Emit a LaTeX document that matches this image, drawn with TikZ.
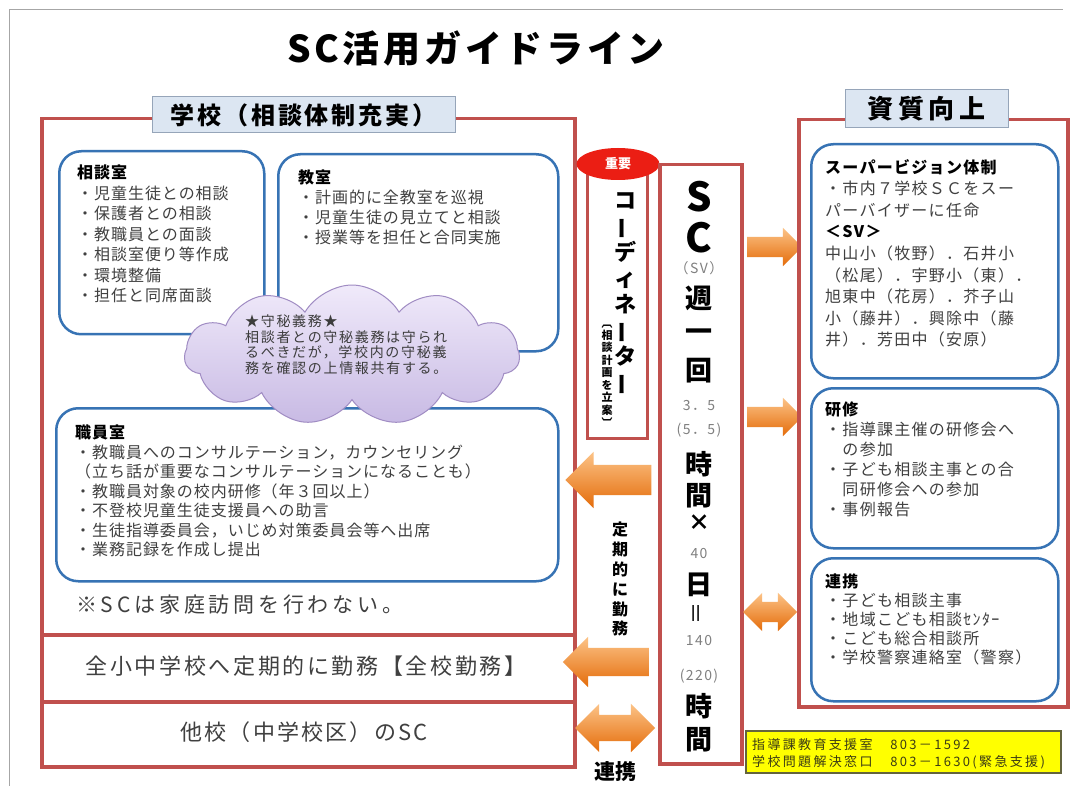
\documentclass[tikz,border=0pt]{standalone}
\usepackage{fontspec}
\usepackage{graphicx}
\setmainfont{Noto Sans CJK JP}
\usetikzlibrary{shapes.arrows,shapes.symbols,shapes.geometric}
\definecolor{scred}{RGB}{192,80,77}
\definecolor{bbord}{RGB}{55,115,180}
\definecolor{lblfill}{RGB}{220,230,242}
\definecolor{lblbord}{RGB}{150,165,185}
\definecolor{txtg}{RGB}{64,64,64}
\definecolor{numg}{RGB}{128,128,128}
\definecolor{orL}{RGB}{252,195,135}
\definecolor{orM}{RGB}{247,150,70}
\definecolor{orD}{RGB}{228,108,10}
\definecolor{cloudT}{RGB}{240,234,250}
\definecolor{cloudB}{RGB}{200,186,228}
\definecolor{cloudE}{RGB}{160,140,195}
\definecolor{impred}{RGB}{235,30,20}
\definecolor{ylw}{RGB}{255,255,0}
\definecolor{ytxt}{RGB}{60,60,20}
\newcommand{\fs}[2]{\fontsize{#1}{#2}\selectfont}
\newcommand{\ls}[1]{\addfontfeatures{LetterSpace=#1}}
\newcommand{\vbar}{\rotatebox[origin=c]{90}{ー}}
\begin{document}
\begin{tikzpicture}[x=1pt,y=-1pt,
  redbox/.style={draw=scred, line width=3.5pt, fill=white, inner sep=0pt, rectangle, anchor=north west},
  bluebox/.style={draw=bbord, line width=2.5pt, fill=white, rounded corners=22pt, inner sep=0pt, rectangle, anchor=north west},
  lbl/.style={draw=lblbord, line width=1pt, fill=lblfill, inner sep=0pt, rectangle},
  txt/.style={inner sep=0pt, align=left, anchor=north west, text=txtg},
  vtxt/.style={inner sep=0pt, align=center, anchor=north},
  orshade/.style={top color=orL, middle color=orM, bottom color=orD, draw=none, inner sep=0pt, text depth=0pt},
  larr/.style={orshade, single arrow, shape border rotate=180},
  rarr/.style={orshade, single arrow},
  darr/.style={orshade, double arrow},
  scbig/.style={inner sep=0pt, font=\fs{40}{40}\bfseries},
  sckan/.style={inner sep=0pt, font=\fs{27}{28}\bfseries},
  scnum/.style={inner sep=0pt, text=numg, font=\fs{14}{15}\ls{10}},
]
\useasboundingbox (0,0) rectangle (1071,786);
\fill[white] (0,0) rectangle (1071,786);
\draw[gray!70, line width=0.8pt] (9,786) -- (9,9) -- (1063,9);

% title
\node[inner sep=0pt, font=\fs{37}{40}\ls{10}\bfseries] (title) at (476,48) {SC活用ガイドライン};

% school side
\node[redbox, minimum width=533, minimum height=516] (school) at (40,117) {};
\node[redbox, minimum width=533, minimum height=67] (rowall) at (40,633) {};
\node[redbox, minimum width=533, minimum height=65] (rowother) at (40,700) {};
\node[lbl, minimum width=303, minimum height=36, font=\fs{24}{26}\ls{12}\bfseries] (schoollbl) at (303.5,115) {学校（相談体制充実）};

\node[bluebox, minimum width=205, minimum height=183] (soudan) at (58,150) {};
\node[txt, font=\fs{16}{20.5}\ls{6}] (soudantxt) at (77,165)
  {{\color{black}\bfseries 相談室}\\・児童生徒との相談\\・保護者との相談\\・教職員との面談\\・相談室便り等作成\\・環境整備\\・担任と同席面談};

\node[bluebox, minimum width=280, minimum height=197] (kyoushitsu) at (277,153) {};
\node[txt, font=\fs{16}{20}\ls{6}] (kyoutxt) at (298,170)
  {{\color{black}\bfseries 教室}\\・計画的に全教室を巡視\\・児童生徒の見立てと相談\\・授業等を担任と合同実施};

\node[bluebox, minimum width=502, minimum height=173] (shokuin) at (55,407) {};

\node[cloud, cloud puffs=11, cloud puff arc=120, cloud ignores aspect, minimum width=335, minimum height=140,
  top color=cloudT, bottom color=cloudB, draw=cloudE, line width=1pt, inner sep=0pt] (secret) at (352,355) {};
\node[txt, text={rgb,255:red,60;green,60;blue,60}, font=\fs{14}{15.5}\ls{12}] (secrettxt) at (245,315)
  {★守秘義務★\\相談者との守秘義務は守られ\\るべきだが，学校内の守秘義\\務を確認の上情報共有する。};

\node[txt, font=\fs{16}{19.5}\ls{6}] (shokutxt) at (75,425)
  {{\color{black}\bfseries 職員室}\\・教職員へのコンサルテーション，カウンセリング\\（立ち話が重要なコンサルテーションになることも）\\・教職員対象の校内研修（年３回以上）\\・不登校児童生徒支援員への助言\\・生徒指導委員会，いじめ対策委員会等へ出席\\・業務記録を作成し提出};

\node[txt, font=\fs{21}{23}\ls{18}] (note) at (76,594.5) {※SCは家庭訪問を行わない。};

\node[inner sep=0pt, text=txtg, font=\fs{22}{24}\ls{12}] (alltxt) at (306,666) {全小中学校へ定期的に勤務【全校勤務】};
\node[inner sep=0pt, text=txtg, font=\fs{22}{24}\ls{10}] (othertxt) at (304,732) {他校（中学校区）のSC};

% arrows (left)
\node[larr, minimum height=86, text height=30, single arrow head extend=13] (arrL1) at (616,480) {};
\node[larr, minimum height=86, text height=28, single arrow head extend=11] (arrL2) at (613,662) {};
\node[darr, minimum height=80, text height=26, double arrow head extend=11] (arrL3) at (615,728) {};
\node[vtxt, font=\fs{16}{19.8}\bfseries] (teiki) at (620,522) {定\\期\\的\\に\\勤\\務};
\node[inner sep=0pt, font=\fs{21}{22}\bfseries] (renkeilbl) at (615,772) {連携};

% coordinator
\node[redbox, line width=2.5pt, minimum width=60, minimum height=267] (coord) at (586,170) {};
\node[ellipse, fill=impred, minimum width=83, minimum height=32, inner sep=0pt, text=white, font=\fs{13}{14}\bfseries] (imp) at (618,164) {重要};
\node[vtxt, font=\fs{22}{26}\bfseries] (coordtxt) at (625,192) {コ\\\vbar\\デ\\ィ\\ネ\\\vbar\\タ\\\vbar};
\node[vtxt, font=\fs{11}{12.5}\bfseries] (coordsub) at (607,317)
  {\rotatebox[origin=c]{-90}{〔}\\相\\談\\計\\画\\を\\立\\案\\\rotatebox[origin=c]{-90}{〕}};

% SC column
\node[redbox, minimum width=82, minimum height=599] (sc) at (658,163) {};
\node[scbig] (scS) at (699,197) {S};
\node[scbig] (scC) at (699,238) {C};
\node[scnum] (scSV) at (699,268) {（SV）};
\node[sckan] (sc1) at (699,298) {週};
\node[sckan] (sc2) at (699,335) {一};
\node[sckan] (sc3) at (699,371) {回};
\node[scnum] (sc4) at (699,406) {3．5};
\node[scnum] (sc5) at (699,430) {(5．5)};
\node[sckan] (sc6) at (699,464) {時};
\node[sckan] (sc7) at (699,496) {間};
\node[inner sep=0pt, font=\fs{22}{22}\bfseries] (sc8) at (699,523) {×};
\node[scnum] (sc9) at (699,554) {40};
\node[sckan] (sc10) at (699,585) {日};
\node[inner sep=0pt, font=\fs{22}{22}] (sc11) at (699,613) {\rotatebox[origin=c]{90}{＝}};
\node[scnum] (sc12) at (699,641) {140};
\node[scnum] (sc13) at (699,676) {(220)};
\node[sckan] (sc14) at (699,706) {時};
\node[sckan] (sc15) at (699,740) {間};

% arrows (right)
\node[rarr, minimum height=55, text height=20, single arrow head extend=9] (arrR1) at (769.5,247) {};
\node[rarr, minimum height=55, text height=20, single arrow head extend=9] (arrR2) at (769.5,417) {};
\node[darr, minimum height=54, text height=20, double arrow head extend=9] (arrR3) at (770,612) {};

% right side
\node[redbox, minimum width=269, minimum height=587] (quality) at (797,118) {};
\node[lbl, minimum width=163, minimum height=38, font=\fs{26}{28}\ls{18}\bfseries] (qualitylbl) at (926.5,109) {資質向上};

\node[bluebox, minimum width=247, minimum height=234] (super) at (810,143) {};
\node[txt, font=\fs{16}{21.6}\ls{8}] (supertxt) at (825,159)
  {{\color{black}\bfseries スーパービジョン体制}\\・市内７学校ＳＣをスー\\パーバイザーに任命\\{\color{black}\bfseries ＜SV＞}\\中山小（牧野）．石井小\\（松尾）．宇野小（東）．\\旭東中（花房）．芥子山\\小（藤井）．興除中（藤\\井）．芳田中（安原）};

\node[bluebox, minimum width=247, minimum height=160] (kenshu) at (810,387) {};
\node[txt, font=\fs{16}{20}\ls{8}] (kenshutxt) at (825,402)
  {{\color{black}\bfseries 研修}\\・指導課主催の研修会へ\\　の参加\\・子ども相談主事との合\\　同研修会への参加\\・事例報告};

\node[bluebox, minimum width=247, minimum height=143] (renkei) at (810,557) {};
\node[txt, font=\fs{16}{19}\ls{8}] (renkeitxt) at (825,574)
  {{\color{black}\bfseries 連携}\\・子ども相談主事\\・地域こども相談ｾﾝﾀｰ\\・こども総合相談所\\・学校警察連絡室（警察）};

% contact box
\node[rectangle, draw={rgb,255:red,100;green,100;blue,60}, line width=1.5pt, fill=ylw, minimum width=315, minimum height=42, anchor=north west, inner sep=0pt] (contact) at (745,730) {};
\node[txt, text=ytxt, font=\fs{13}{17}\ls{18}] (contacttxt) at (752,738.5)
  {指導課教育支援室　803－1592\\学校問題解決窓口　803－1630(緊急支援)};
\end{tikzpicture}
\end{document}
